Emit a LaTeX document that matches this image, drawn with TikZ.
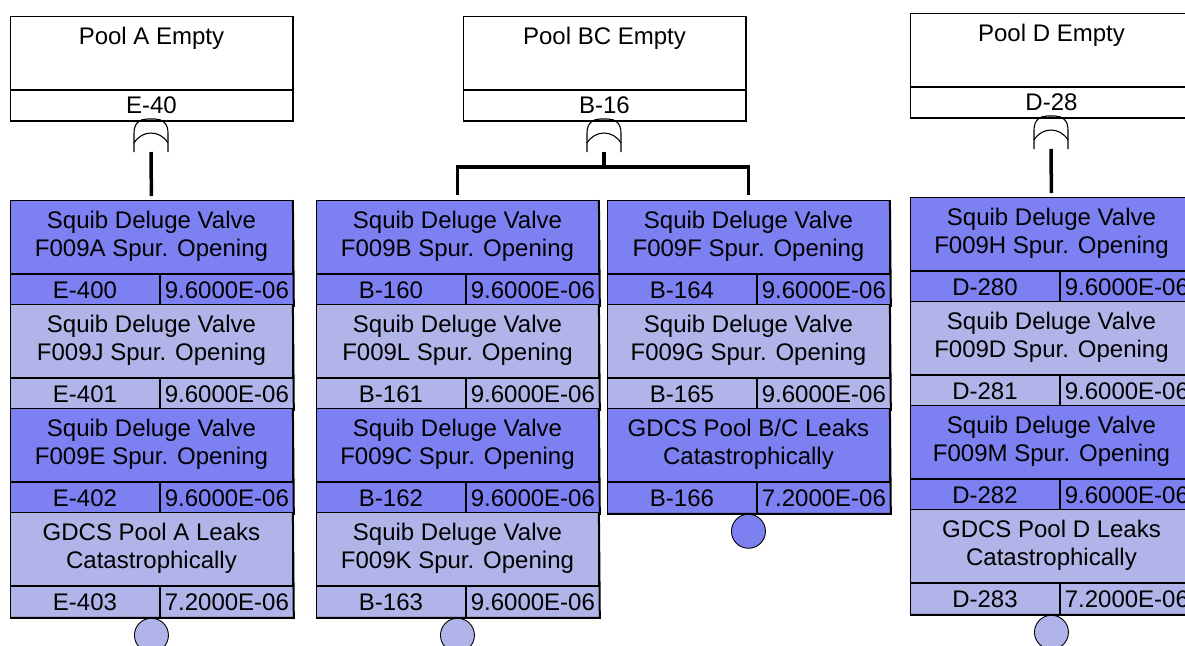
\documentclass[tikz,border=0pt]{standalone}
\usepackage{fontspec}
\setmainfont{Liberation Sans}
\usetikzlibrary{calc}
\definecolor{evdark}{RGB}{124,128,240}
\definecolor{evlight}{RGB}{177,180,232}
\tikzset{
  every node/.style={font=\fontsize{24}{28}\selectfont},
  txt/.style={anchor=base, inner sep=0pt, text=black},
  cellbox/.style={draw=black, line width=0.9pt, inner sep=0pt, anchor=north west, text height=16.5pt, text depth=0pt},
  gateline/.style={line width=1.1pt},
  conn/.style={line width=3.5pt},
  shadowline/.style={line width=2pt},
  basic/.style={circle, draw=black, line width=0.9pt, minimum size=34pt, inner sep=0pt, anchor=north},
}
% top gate box: name, x, y, title, id
\newcommand\topgate[5]{%
  \node[cellbox, fill=white, minimum width=282pt, minimum height=73pt] (#1) at (#2,#3) {};
  \node[txt] (#1-t) at ($(#1.north)+(0,28)$) {#4};
  \node[cellbox, fill=white, minimum width=282pt, minimum height=30pt] (#1-id) at (#1.south west) {#5};
  \draw[shadowline] (#1.north east) -- (#1-id.south east) -- (#1-id.south west);
}
% basic event: name, x, y, colour, line1, line2, id, prob
\newcommand\evt[8]{%
  \node[cellbox, fill=#4, minimum width=282pt, minimum height=73pt] (#1) at (#2,#3) {};
  \node[txt] (#1-a) at ($(#1.north)+(0,28)$) {#5};
  \node[txt] (#1-b) at ($(#1.north)+(0,56)$) {#6};
  \node[cellbox, fill=#4, minimum width=149pt, minimum height=31pt] (#1-id) at (#1.south west) {#7};
  \node[cellbox, fill=#4, minimum width=133pt, minimum height=31pt] (#1-p) at (#1-id.north east) {#8};
  \draw[shadowline] (#1.north east) -- (#1-p.south east) -- (#1-id.south west);
}
% OR gate: name of output coordinate, x, ytop
\newcommand\orgate[3]{%
  \draw[gateline] ({#2-17},{#3+33}) -- ({#2-17},{#3+14}) .. controls ({#2-17},{#3+4}) and ({#2-11},{#3}) .. ({#2-4},{#3}) -- ({#2+4},{#3}) .. controls ({#2+11},{#3}) and ({#2+17},{#3+4}) .. ({#2+17},{#3+14}) -- ({#2+17},{#3+33});
  \draw[gateline] ({#2-17},{#3+24}) .. controls ({#2-9},{#3+10.7}) and ({#2+9},{#3+10.7}) .. ({#2+17},{#3+24});
  \coordinate (#1) at (#2,{#3+33});
}
\begin{document}
\begin{tikzpicture}[x=1pt,y=-1pt]
\useasboundingbox (0,0) rectangle (1185,645);
\clip (0,0) rectangle (1185,645);

% top events
\topgate{PA}{10}{16}{Pool A Empty}{E-40}
\topgate{PBC}{463}{16}{Pool BC Empty}{B-16}
\topgate{PD}{910}{13}{Pool D Empty}{D-28}

% gates
\orgate{gA}{151}{119}
\orgate{gBC}{604}{119}
\orgate{gD}{1051}{116}

% column A
\evt{A1}{10}{200}{evdark}{Squib Deluge Valve}{F009A Spur. Opening}{E-400}{9.6000E-06}
\evt{A2}{10}{304}{evlight}{Squib Deluge Valve}{F009J Spur. Opening}{E-401}{9.6000E-06}
\evt{A3}{10}{408}{evdark}{Squib Deluge Valve}{F009E Spur. Opening}{E-402}{9.6000E-06}
\evt{A4}{10}{512}{evlight}{GDCS Pool A Leaks}{Catastrophically}{E-403}{7.2000E-06}
\node[basic, fill=evlight] (Ac) at (A4.south |- A4-p.south) {};

% column B
\evt{B1}{316}{200}{evdark}{Squib Deluge Valve}{F009B Spur. Opening}{B-160}{9.6000E-06}
\evt{B2}{316}{304}{evlight}{Squib Deluge Valve}{F009L Spur. Opening}{B-161}{9.6000E-06}
\evt{B3}{316}{408}{evdark}{Squib Deluge Valve}{F009C Spur. Opening}{B-162}{9.6000E-06}
\evt{B4}{316}{512}{evlight}{Squib Deluge Valve}{F009K Spur. Opening}{B-163}{9.6000E-06}
\node[basic, fill=evlight] (Bc) at (B4.south |- B4-p.south) {};

% column C
\evt{C1}{607}{200}{evdark}{Squib Deluge Valve}{F009F Spur. Opening}{B-164}{9.6000E-06}
\evt{C2}{607}{304}{evlight}{Squib Deluge Valve}{F009G Spur. Opening}{B-165}{9.6000E-06}
\evt{C3}{607}{408}{evdark}{GDCS Pool B/C Leaks}{Catastrophically}{B-166}{7.2000E-06}
\node[basic, fill=evdark] (Cc) at (C3.south |- C3-p.south) {};

% column D
\evt{D1}{910}{197}{evdark}{Squib Deluge Valve}{F009H Spur. Opening}{D-280}{9.6000E-06}
\evt{D2}{910}{301}{evlight}{Squib Deluge Valve}{F009D Spur. Opening}{D-281}{9.6000E-06}
\evt{D3}{910}{405}{evdark}{Squib Deluge Valve}{F009M Spur. Opening}{D-282}{9.6000E-06}
\evt{D4}{910}{509}{evlight}{GDCS Pool D Leaks}{Catastrophically}{D-283}{7.2000E-06}
\node[basic, fill=evlight] (Dc) at (D4.south |- D4-p.south) {};

% connectors
\draw[conn, shorten >=4pt] (gA) -- (A1.north);
\draw[conn] (gBC) -- ++(0,15) coordinate (barBC);
\draw[conn, shorten >=5pt] (barBC) -| (B1.north);
\draw[conn, shorten >=5pt] (barBC) -| (C1.north);
\draw[conn, shorten >=4pt] (gD) -- (D1.north);
\end{tikzpicture}
\end{document}
